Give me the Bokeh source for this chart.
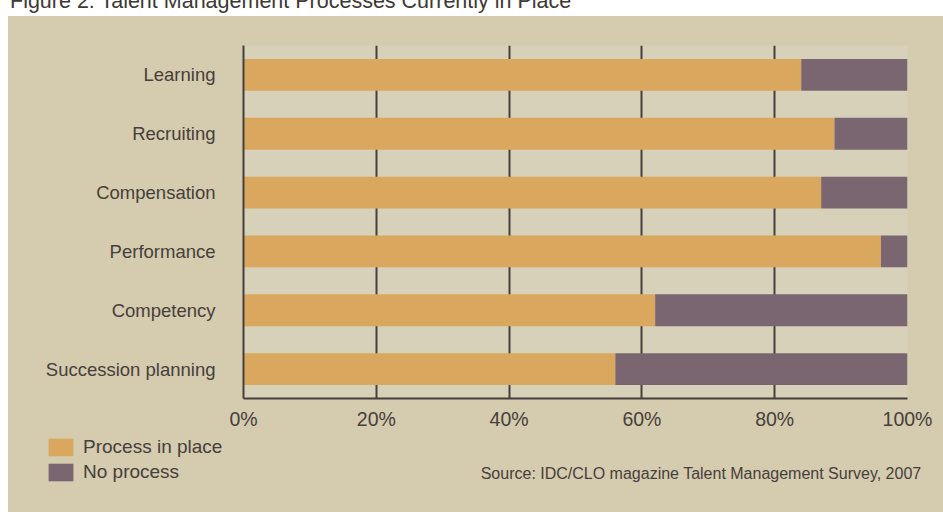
from bokeh.plotting import figure
from bokeh.models import (FactorRange, Range1d, FixedTicker, Legend, LegendItem,
                          Label, Div, ColumnDataSource)
from bokeh.layouts import column
from bokeh.embed import file_html
from bokeh.resources import INLINE

categories = ["Learning", "Recruiting", "Compensation", "Performance",
              "Competency", "Succession planning"]
process_in_place = [84, 89, 87, 96, 62, 56]
no_process = [16, 11, 13, 4, 38, 44]
series_names = ["Process in place", "No process"]
x_ticks = [0, 20, 40, 60, 80, 100]
x_tick_labels = ["0%", "20%", "40%", "60%", "80%", "100%"]
title_text = "Figure 2: Talent Management Processes Currently in Place"
source_text = "Source: IDC/CLO magazine Talent Management Survey, 2007"

FONT = "Liberation Sans"
TEXT = "#45403b"
ORANGE = "#d9a85e"
PURPLE = "#7a6670"
PANEL = "#d5cbae"
PLOTBG = "#d8d1b9"
colors = [ORANGE, PURPLE]

src = ColumnDataSource(dict(category=categories,
                            **{series_names[0]: process_in_place,
                               series_names[1]: no_process}))

# ---- main chart ----
p = figure(width=935, height=418,
           y_range=FactorRange(factors=categories[::-1], range_padding=0),
           x_range=Range1d(0, 100),
           output_backend="svg", toolbar_location=None,
           min_border_left=235, min_border_right=36,
           min_border_top=29, min_border_bottom=36,
           margin=0)
p.frame_align = False
p.background_fill_color = PLOTBG
p.border_fill_color = PANEL
p.outline_line_color = None

p.hbar_stack(series_names, y="category", height=0.54,
             color=colors, line_color=None, source=src)

p.xgrid.ticker = FixedTicker(ticks=x_ticks)
p.xgrid.grid_line_color = TEXT
p.xgrid.grid_line_width = 2
p.ygrid.visible = False

xa = p.xaxis[0]
xa.ticker = FixedTicker(ticks=x_ticks)
xa.major_label_overrides = {t: l for t, l in zip(x_ticks, x_tick_labels)}
xa.axis_line_color = TEXT
xa.axis_line_width = 2
xa.major_tick_line_color = None
xa.major_tick_out = 0
xa.major_tick_in = 0
xa.minor_tick_line_color = None
xa.major_label_text_font = FONT
xa.major_label_text_font_size = "19.5px"
xa.major_label_text_color = TEXT
xa.major_label_standoff = 9

ya = p.yaxis[0]
ya.axis_line_color = TEXT
ya.axis_line_width = 2
ya.major_tick_line_color = None
ya.major_tick_out = 0
ya.major_tick_in = 0
ya.minor_tick_line_color = None
ya.major_label_text_font = FONT
ya.major_label_text_font_size = "18.5px"
ya.major_label_text_color = TEXT
ya.major_label_standoff = 28

# ---- bottom strip: legend + source ----
b = figure(width=935, height=78, x_range=Range1d(0, 100), y_range=Range1d(0, 1),
           output_backend="svg", toolbar_location=None,
           x_axis_location=None, y_axis_location=None,
           min_border=0, margin=0)
b.frame_align = False
b.background_fill_color = PANEL
b.border_fill_color = PANEL
b.outline_line_color = None
b.grid.visible = False

# legend-only renderers: the categorical y values do not map onto this numeric
# strip, so no bars are drawn here; they only provide the legend swatches
swatches = b.hbar_stack(series_names, y="category", height=0.54,
                        color=colors, line_color=None, source=src)

legend = Legend(items=[LegendItem(label=n, renderers=[r])
                       for n, r in zip(series_names, swatches)],
                location=(37, 29), orientation="vertical",
                glyph_width=31, glyph_height=22, label_standoff=7,
                spacing=3, padding=0, margin=0,
                border_line_color=None, background_fill_alpha=0,
                label_text_font=FONT, label_text_font_size="19px",
                label_text_color=TEXT)
b.add_layout(legend)

src_label = Label(x=913, y=39, x_units="screen", y_units="screen",
                  text=source_text, text_align="right", text_baseline="middle",
                  text_font=FONT, text_font_size="16px", text_color=TEXT)
b.add_layout(src_label)

title_div = Div(
    text=(f'<div style="font-family:\'{FONT}\';font-size:21.5px;line-height:22px;'
          f'color:#3d3934;white-space:nowrap;margin-top:-16px;margin-left:2px;'
          f'transform:translateY(-4px)">'
          f'{title_text}</div>'),
    width=935, height=16, margin=0,
    styles={"overflow": "hidden", "background-color": "white"})

layout = column(title_div, p, b, spacing=0, margin=(0, 0, 0, 8),
                styles={"background-color": PANEL})

open("out.html", "w").write(file_html(layout, INLINE))
